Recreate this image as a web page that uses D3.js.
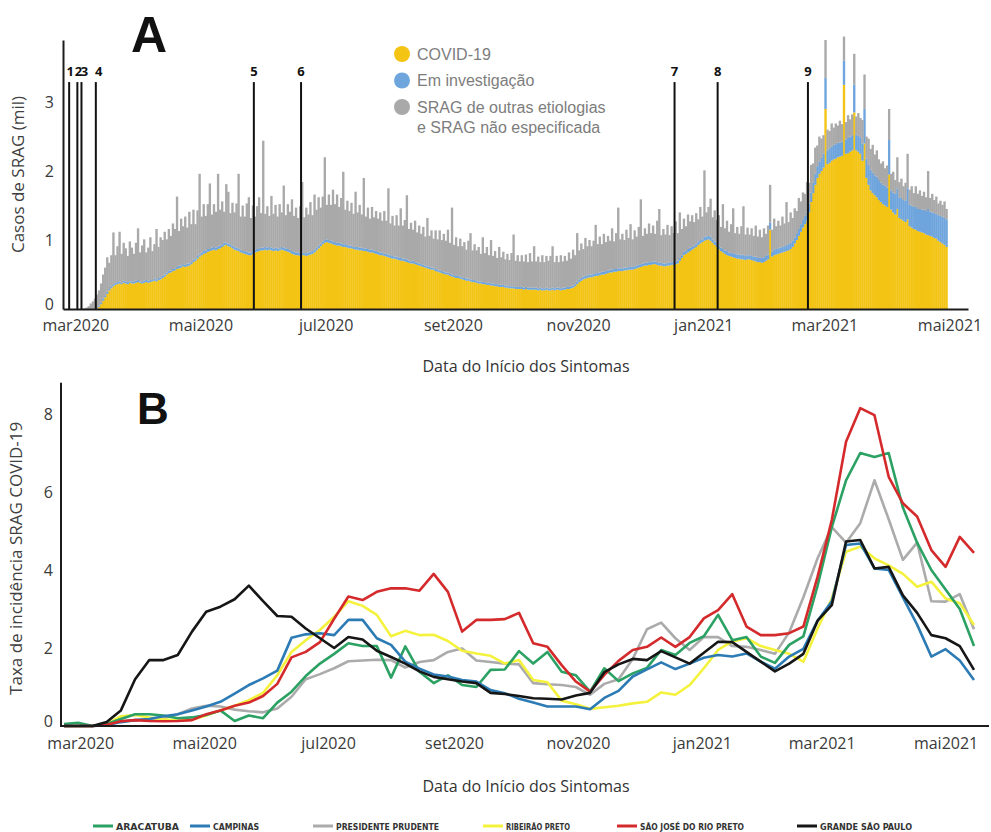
<!DOCTYPE html>
<html>
<head>
<meta charset="utf-8">
<script src="https://cdn.jsdelivr.net/npm/d3@7"></script>
<style>
  body { margin: 0; background: #fff; }
  text { font-family: "Open Sans", "Noto Sans", sans-serif; }
</style>
</head>
<body>
<svg id="chart" width="991" height="832"></svg>
<script>
// ---- panel A: daily SRAG cases (thousands), from 1 Mar 2020 ----
var firstDay = '2020-03-01';
var covid = [
  0,0,0,0,0,0,0,
  0,0,0,0,0.03,0.07,0.12,
  0.17,0.22,0.27,0.30,0.33,0.35,0.36,
  0.37,0.36,0.38,0.37,0.36,0.38,0.37,
  0.37,0.38,0.39,0.38,0.37,0.38,0.39,
  0.38,0.39,0.40,0.41,0.40,0.42,0.43,
  0.45,0.47,0.50,0.52,0.53,0.55,0.56,
  0.58,0.59,0.60,0.62,0.61,0.62,0.63,
  0.65,0.68,0.70,0.73,0.76,0.78,0.80,
  0.81,0.83,0.84,0.85,0.86,0.85,0.87,
  0.88,0.90,0.92,0.93,0.91,0.90,0.88,
  0.86,0.85,0.84,0.82,0.81,0.80,0.79,
  0.78,0.78,0.80,0.82,0.83,0.84,0.85,
  0.85,0.86,0.85,0.86,0.85,0.84,0.85,
  0.84,0.85,0.86,0.85,0.84,0.83,0.82,
  0.80,0.79,0.78,0.78,0.77,0.78,0.78,
  0.77,0.78,0.79,0.80,0.82,0.85,0.88,
  0.91,0.94,0.96,0.97,0.96,0.95,0.94,
  0.93,0.92,0.92,0.91,0.90,0.90,0.89,
  0.88,0.88,0.87,0.86,0.86,0.85,0.85,
  0.84,0.84,0.83,0.82,0.82,0.81,0.80,
  0.79,0.78,0.78,0.77,0.76,0.75,0.74,
  0.73,0.73,0.72,0.71,0.70,0.70,0.69,
  0.68,0.67,0.66,0.66,0.65,0.64,0.63,
  0.62,0.61,0.60,0.59,0.58,0.57,0.57,
  0.55,0.54,0.53,0.52,0.51,0.50,0.50,
  0.48,0.47,0.46,0.45,0.45,0.44,0.43,
  0.42,0.41,0.41,0.40,0.39,0.39,0.38,
  0.37,0.37,0.36,0.36,0.35,0.35,0.34,
  0.34,0.33,0.33,0.32,0.32,0.32,0.31,
  0.31,0.30,0.30,0.30,0.29,0.29,0.29,
  0.29,0.28,0.29,0.28,0.28,0.28,0.28,
  0.28,0.27,0.28,0.27,0.27,0.28,0.27,
  0.27,0.28,0.27,0.28,0.28,0.27,0.28,
  0.28,0.29,0.29,0.30,0.31,0.33,0.36,
  0.39,0.41,0.43,0.44,0.45,0.46,0.46,
  0.47,0.48,0.48,0.49,0.50,0.50,0.51,
  0.52,0.53,0.53,0.54,0.54,0.55,0.55,
  0.55,0.56,0.56,0.57,0.57,0.57,0.58,
  0.59,0.60,0.61,0.62,0.63,0.63,0.64,
  0.64,0.65,0.65,0.64,0.63,0.63,0.62,
  0.62,0.63,0.63,0.64,0.64,0.65,0.66,
  0.70,0.74,0.78,0.80,0.82,0.84,0.86,
  0.88,0.90,0.93,0.95,0.97,0.99,1.00,
  1.01,0.99,0.96,0.93,0.90,0.87,0.84,
  0.82,0.80,0.78,0.77,0.76,0.75,0.74,
  0.73,0.73,0.72,0.72,0.71,0.72,0.72,
  0.71,0.70,0.69,0.68,0.68,0.67,0.68,
  0.70,0.72,1.15,0.76,0.78,0.79,0.80,
  0.81,0.82,0.83,0.84,0.85,0.87,0.90,
  0.95,1.00,1.06,1.12,1.18,1.23,1.28,
  1.40,1.55,1.68,1.80,1.90,1.96,2.00,
  2.05,2.90,2.10,2.12,2.15,2.17,2.18,
  2.20,2.21,2.22,3.25,2.25,2.26,2.28,
  2.30,2.85,2.30,2.28,2.25,2.15,2.40,
  1.90,1.80,1.72,1.68,1.65,1.62,1.58,
  1.55,1.52,1.50,1.48,1.95,1.44,1.40,
  1.37,1.45,1.32,1.30,1.28,1.26,1.30,
  1.20,1.18,1.16,1.15,1.13,1.12,1.11,
  1.10,1.08,1.07,1.06,1.05,1.03,1.02,
  0.99,0.97,0.95,0.93,0.90
];
var investigacao = [
  0,0,0,0,0,0,0,
  0,0,0,0.01,0.02,0.02,0.03,
  0.03,0.03,0.02,0.03,0.03,0.03,0.03,
  0.03,0.02,0.03,0.03,0.03,0.02,0.03,
  0.03,0.03,0.03,0.02,0.03,0.03,0.03,
  0.03,0.03,0.02,0.03,0.03,0.03,0.03,
  0.03,0.03,0.03,0.04,0.03,0.03,0.03,
  0.03,0.04,0.03,0.03,0.03,0.04,0.03,
  0.03,0.04,0.03,0.04,0.03,0.04,0.04,
  0.04,0.04,0.03,0.04,0.04,0.04,0.04,
  0.04,0.04,0.04,0.03,0.04,0.04,0.04,
  0.04,0.04,0.04,0.04,0.03,0.04,0.04,
  0.04,0.04,0.04,0.04,0.04,0.03,0.04,
  0.04,0.04,0.04,0.04,0.04,0.04,0.04,
  0.04,0.03,0.04,0.04,0.04,0.04,0.04,
  0.04,0.04,0.04,0.04,0.04,0.04,0.03,
  0.04,0.04,0.04,0.04,0.04,0.04,0.04,
  0.04,0.04,0.04,0.04,0.04,0.04,0.04,
  0.04,0.04,0.04,0.04,0.04,0.04,0.04,
  0.04,0.04,0.03,0.04,0.04,0.04,0.04,
  0.04,0.04,0.04,0.04,0.04,0.04,0.04,
  0.04,0.04,0.04,0.03,0.04,0.04,0.04,
  0.04,0.03,0.04,0.04,0.04,0.03,0.04,
  0.04,0.03,0.03,0.04,0.03,0.03,0.03,
  0.03,0.03,0.03,0.03,0.03,0.03,0.03,
  0.03,0.03,0.03,0.03,0.03,0.03,0.03,
  0.03,0.03,0.03,0.03,0.03,0.03,0.03,
  0.03,0.03,0.03,0.03,0.03,0.03,0.03,
  0.03,0.03,0.03,0.03,0.03,0.03,0.03,
  0.03,0.03,0.03,0.03,0.03,0.03,0.03,
  0.03,0.03,0.03,0.03,0.03,0.03,0.03,
  0.03,0.03,0.03,0.03,0.03,0.03,0.03,
  0.03,0.03,0.03,0.03,0.03,0.03,0.03,
  0.03,0.03,0.03,0.03,0.03,0.03,0.03,
  0.03,0.03,0.03,0.03,0.03,0.03,0.04,
  0.04,0.04,0.04,0.04,0.04,0.04,0.04,
  0.04,0.04,0.04,0.04,0.04,0.04,0.04,
  0.04,0.04,0.04,0.04,0.04,0.04,0.04,
  0.04,0.04,0.04,0.04,0.04,0.04,0.04,
  0.04,0.04,0.04,0.04,0.04,0.04,0.04,
  0.04,0.04,0.04,0.04,0.04,0.04,0.04,
  0.04,0.04,0.04,0.04,0.04,0.04,0.04,
  0.04,0.04,0.05,0.04,0.05,0.05,0.04,
  0.04,0.05,0.05,0.05,0.04,0.06,0.05,
  0.05,0.06,0.05,0.05,0.06,0.05,0.05,
  0.05,0.05,0.06,0.05,0.05,0.06,0.06,
  0.06,0.06,0.06,0.07,0.06,0.06,0.06,
  0.06,0.06,0.07,0.06,0.07,0.07,0.07,
  0.07,0.07,0.10,0.07,0.08,0.08,0.08,
  0.08,0.08,0.08,0.09,0.09,0.09,0.09,
  0.09,0.10,0.10,0.11,0.11,0.12,0.12,
  0.13,0.14,0.15,0.16,0.17,0.18,0.19,
  0.20,0.45,0.20,0.21,0.20,0.21,0.21,
  0.21,0.20,0.21,0.35,0.21,0.22,0.22,
  0.22,0.40,0.23,0.23,0.24,0.25,0.50,
  0.28,0.29,0.30,0.30,0.29,0.30,0.29,
  0.28,0.28,0.29,0.28,0.50,0.28,0.29,
  0.30,0.30,0.30,0.31,0.30,0.31,0.45,
  0.31,0.32,0.32,0.33,0.32,0.33,0.33,
  0.34,0.34,0.38,0.35,0.35,0.36,0.36,
  0.37,0.38,0.39,0.39,0.40
];
var outras = [
  0,0,0,0,0.01,0.02,0.04,
  0.08,0.11,0.15,0.20,0.22,0.28,0.35,
  0.40,0.50,0.38,0.45,0.75,0.40,0.52,
  0.72,0.42,0.55,0.48,0.38,0.58,0.49,
  0.40,0.55,0.75,0.42,0.52,0.60,0.40,
  0.48,0.62,0.42,0.50,0.73,0.45,0.58,
  0.52,0.62,0.48,0.60,0.50,0.66,0.57,
  1.02,0.50,0.68,0.55,0.70,0.52,0.75,
  0.55,0.72,0.50,0.66,1.17,0.52,0.68,
  0.50,0.65,0.95,0.48,0.62,0.52,1.05,
  0.52,0.62,0.45,0.85,0.75,0.45,0.62,
  0.50,0.64,1.08,0.48,0.66,0.50,0.70,
  0.80,0.50,0.66,0.48,0.62,0.75,0.50,
  1.55,0.48,0.60,0.45,0.75,0.50,0.62,
  0.46,0.64,0.50,0.90,0.48,0.65,0.55,
  0.75,0.52,0.65,0.50,0.68,1.02,0.52,
  0.66,0.55,0.72,0.52,0.80,0.55,0.70,
  0.52,0.65,1.20,0.50,0.66,0.52,0.75,
  0.55,0.70,0.52,0.66,1.05,0.50,0.64,
  0.50,0.62,0.48,0.80,0.50,0.62,0.48,
  1.02,0.46,0.60,0.45,0.62,0.48,0.58,
  0.48,0.58,0.46,0.62,0.48,0.96,0.46,
  0.58,0.45,0.60,0.46,0.72,0.48,0.56,
  0.93,0.46,0.56,0.45,0.60,0.44,0.55,
  0.44,0.55,0.42,0.70,0.45,0.54,0.42,
  0.56,0.44,0.58,0.45,0.55,0.46,0.62,
  0.45,0.97,0.44,0.56,0.43,0.55,0.45,
  0.52,0.42,0.55,0.67,0.43,0.52,0.44,
  0.50,0.40,0.65,0.42,0.52,0.40,0.63,
  0.40,0.48,0.38,0.55,0.40,0.48,0.38,
  0.46,0.38,0.48,0.75,0.38,0.46,0.37,
  0.46,0.38,0.47,0.37,0.50,0.38,0.60,
  0.38,0.46,0.37,0.48,0.38,0.46,0.40,
  0.47,0.60,0.38,0.46,0.37,0.48,0.38,
  0.46,0.38,0.50,0.40,0.52,0.42,0.70,
  0.42,0.50,0.40,0.55,0.42,0.50,0.41,
  0.48,0.70,0.42,0.52,0.40,0.55,0.42,
  0.50,0.42,0.60,0.40,0.52,0.88,0.42,
  0.50,0.40,0.55,0.42,0.62,0.40,0.52,
  0.42,0.55,0.94,0.40,0.50,0.42,0.56,
  0.42,0.52,0.40,0.60,0.78,0.40,0.50,
  0.42,0.55,0.40,0.52,0.42,0.58,0.40,
  0.66,0.38,0.48,0.36,0.50,0.38,0.46,
  0.34,0.44,0.32,0.48,0.33,0.96,0.35,
  0.42,0.55,0.32,0.45,0.33,0.44,0.30,
  0.65,0.32,0.44,0.30,0.42,0.65,0.30,
  0.40,0.30,0.42,0.70,0.31,0.40,0.30,
  0.40,0.30,0.45,0.31,0.40,0.30,0.42,
  0.32,0.42,0.55,0.32,0.45,0.33,0.40,
  0.32,0.44,0.33,0.62,0.32,0.44,0.33,
  0.42,0.32,0.45,0.33,0.40,0.32,0.44,
  0.30,0.40,0.28,0.38,0.30,0.36,0.28,
  0.27,0.55,0.30,0.25,0.34,0.25,0.30,
  0.25,0.32,0.25,0.35,0.25,0.33,0.25,
  0.30,0.45,0.26,0.33,0.28,0.34,0.50,
  0.32,0.38,0.30,0.40,0.30,0.38,0.30,
  0.28,0.34,0.25,0.32,0.45,0.24,0.30,
  0.20,0.45,0.22,0.28,0.20,0.26,0.50,
  0.22,0.28,0.20,0.30,0.22,0.27,0.20,
  0.26,0.20,0.55,0.20,0.27,0.19,0.25,
  0.17,0.22,0.17,0.24,0.15
];

var markerDates = ['2020-02-27', '2020-03-02', '2020-03-04', '2020-03-11', '2020-05-27',
                   '2020-06-19', '2020-12-18', '2021-01-08', '2021-02-21'];
var markerLabels = ['1', '2', '3', '4', '5', '6', '7', '8', '9'];

var monthTicks = ['2020-03-01', '2020-05-01', '2020-07-01', '2020-09-01',
                  '2020-11-01', '2021-01-01', '2021-03-01', '2021-05-01'];
var monthLabels = ['mar2020', 'mai2020', 'jul2020', 'set2020', 'nov2020', 'jan2021', 'mar2021', 'mai2021'];

var stackKeys = ['covid', 'invest', 'outras'];
var stackNames = ['COVID-19', 'Em investigação', 'SRAG de outras etiologias|e SRAG não especificada'];
var stackColors = ['#F3C414', '#6FA5DD', '#A9A9A9'];

// ---- panel B: weekly incidence, from week ending 22 Feb 2020 ----
var firstWeek = '2020-02-22';
var aracatuba = [0.05,0.08,0,0.05,0.18,0.3,0.3,0.27,0.2,0.22,0.28,0.4,0.13,0.27,0.2,0.6,0.88,1.28,1.6,1.85,
  2.12,2.05,2.05,1.24,2.04,1.39,1.1,1.3,1.05,1.0,1.44,1.45,1.92,1.6,1.9,1.39,1.3,0.88,1.48,1.15,
  1.35,1.49,1.95,1.82,2.13,2.3,2.85,2.2,2.28,1.78,1.62,2.08,2.3,3.6,5.1,6.3,7.0,6.9,7.0,5.6,
  4.7,4.0,3.5,3.0,2.05];
var campinas = [0,0,0,0.02,0.1,0.15,0.18,0.25,0.3,0.4,0.5,0.62,0.83,1.05,1.22,1.42,2.26,2.35,2.38,2.33,
  2.72,2.72,2.25,2.08,1.65,1.47,1.32,1.27,1.18,1.14,0.92,0.84,0.7,0.6,0.5,0.5,0.5,0.43,0.72,0.9,
  1.27,1.45,1.63,1.46,1.6,1.75,1.82,1.78,1.86,1.65,1.47,1.78,1.98,2.7,3.2,4.64,4.68,4.04,4.0,3.3,
  2.6,1.78,1.97,1.68,1.18];
var presidentePrudente = [0,0,0,0.03,0.12,0.15,0.18,0.2,0.3,0.45,0.52,0.5,0.42,0.38,0.35,0.45,0.75,1.2,1.33,1.48,
  1.66,1.68,1.7,1.69,1.5,1.64,1.69,1.9,1.99,1.68,1.64,1.6,1.58,1.1,1.07,1.05,1.0,0.8,1.08,1.2,
  1.72,2.48,2.65,2.25,1.95,2.28,2.28,2.05,2.03,1.95,1.85,2.4,3.3,4.3,5.1,4.7,5.2,6.3,5.3,4.26,
  4.7,3.2,3.19,3.38,2.48];
var ribeiraoPreto = [0,0,0,0.05,0.25,0.28,0.22,0.17,0.14,0.16,0.27,0.4,0.52,0.66,0.85,1.3,1.9,2.2,2.46,2.8,
  3.2,3.08,2.85,2.3,2.44,2.33,2.34,2.18,1.93,1.86,1.8,1.6,1.69,1.18,1.12,0.65,0.56,0.44,0.48,0.52,
  0.58,0.62,0.86,0.8,1.05,1.48,1.95,2.17,2.25,2.05,1.95,1.85,1.65,2.5,3.27,4.47,4.6,4.3,4.12,3.9,
  3.57,3.7,3.27,3.15,2.59];
var saoJoseRioPreto = [0,0,0,0.03,0.12,0.15,0.13,0.12,0.13,0.15,0.3,0.4,0.52,0.6,0.77,1.08,1.76,1.9,2.15,2.75,
  3.32,3.23,3.44,3.53,3.53,3.47,3.9,3.44,2.42,2.72,2.72,2.74,2.9,2.12,2.03,1.56,1.14,0.88,1.31,1.67,
  1.95,2.03,2.27,2.03,2.28,2.76,2.97,3.38,2.55,2.33,2.33,2.38,2.55,3.83,5.28,7.29,8.15,7.97,6.39,5.71,
  5.37,4.51,4.08,4.85,4.44];
var grandeSaoPaulo = [0,0,0,0.1,0.4,1.2,1.69,1.69,1.82,2.42,2.93,3.06,3.25,3.6,3.2,2.82,2.8,2.5,2.25,2.0,
  2.28,2.22,1.93,1.77,1.6,1.4,1.26,1.2,1.14,1.1,0.85,0.82,0.77,0.71,0.7,0.68,0.78,0.85,1.38,1.58,
  1.72,1.69,1.92,1.76,1.6,1.88,2.16,2.15,1.9,1.65,1.4,1.6,1.85,2.7,3.1,4.73,4.77,4.04,4.08,3.35,
  2.9,2.33,2.25,2.05,1.44];

var regionNames = ['ARACATUBA', 'CAMPINAS', 'PRESIDENTE PRUDENTE', 'RIBEIRÃO PRETO', 'SÃO JOSÉ DO RIO PRETO', 'GRANDE SÃO PAULO'];
var regionValues = [aracatuba, campinas, presidentePrudente, ribeiraoPreto, saoJoseRioPreto, grandeSaoPaulo];
var regionColors = ['#2BA163', '#2C7BB4', '#ABABAB', '#F4F23C', '#D42A2C', '#161616'];
var drawOrder = [2, 3, 0, 1, 4, 5];

(function(){
  var parse = d3.utcParse('%Y-%m-%d');
  var svg = d3.select('#chart');
  var axisColor = '#1c1c1c';
  var tickColor = '#3a3a3a';

  // ================= Panel A =================
  var xA = d3.scaleUtc()
    .domain([parse('2020-02-24'), parse('2021-05-10')])
    .range([63, 968]);
  var yA = d3.scaleLinear().domain([0, 3.9]).range([309, 40]);

  var start = parse(firstDay);
  var n = Math.min(covid.length, investigacao.length, outras.length);
  var days = d3.range(n).map(function(i) {
    return {date: d3.utcDay.offset(start, i), covid: covid[i], invest: investigacao[i], outras: outras[i]};
  });
  var series = d3.stack().keys(stackKeys)(days);

  var gA = svg.append('g');
  gA.selectAll('g.layer')
    .data(series)
    .enter()
    .append('g')
    .attr('class', 'layer')
    .attr('fill', function(d, i) { return stackColors[i]; })
    .selectAll('rect')
    .data(function(d) { return d; })
    .enter()
    .append('rect')
    .attr('x', function(d) { return xA(d.data.date); })
    .attr('width', function(d) { return xA(d3.utcDay.offset(d.data.date, 1)) - xA(d.data.date) + 0.3; })
    .attr('y', function(d) { return yA(d[1]); })
    .attr('height', function(d) { return Math.max(0, yA(d[0]) - yA(d[1])); });

  // event markers
  var markerTop = 3.29;
  var markerShift = [1, 1, 3, 3, 0, 0, 0, 0, 0];
  var mk = gA.selectAll('g.marker')
    .data(markerDates)
    .enter()
    .append('g')
    .attr('class', 'marker');
  mk.append('line')
    .attr('x1', function(d) { return xA(parse(d)); })
    .attr('x2', function(d) { return xA(parse(d)); })
    .attr('y1', yA(markerTop))
    .attr('y2', yA(0))
    .attr('stroke', '#111')
    .attr('stroke-width', 2);
  mk.append('text')
    .attr('x', function(d, i) { return xA(parse(d)) + markerShift[i]; })
    .attr('y', yA(markerTop) - 6)
    .attr('text-anchor', 'middle')
    .style('font-size', '13px')
    .style('font-weight', 'bold')
    .attr('fill', '#111')
    .text(function(d, i) { return markerLabels[i]; });

  // axes A
  var axA = gA.append('g')
    .attr('transform', 'translate(0,' + yA(0) + ')')
    .call(d3.axisBottom(xA)
      .tickValues(monthTicks.map(parse))
      .tickFormat(function(d, i) { return monthLabels[i]; })
      .tickSize(0).tickPadding(11));
  var ayA = gA.append('g')
    .attr('transform', 'translate(63,0)')
    .call(d3.axisLeft(yA).tickValues([0, 1, 2, 3]).tickFormat(d3.format('d')).tickSize(0).tickPadding(9));
  [axA, ayA].forEach(function(a) {
    a.select('.domain').attr('stroke', axisColor).attr('stroke-width', 2);
    a.selectAll('text').style('font-size', '16px').attr('fill', tickColor).style('font-family', '"Open Sans", sans-serif');
  });
  ayA.selectAll('.tick').filter(function(d) { return d === 0; }).select('text').attr('dy', '0.05em');

  gA.append('text')
    .attr('transform', 'translate(24,' + yA(1.95) + ') rotate(-90)')
    .attr('text-anchor', 'middle')
    .style('font-size', '17px')
    .attr('fill', '#404040')
    .text('Casos de SRAG (mil)');
  gA.append('text')
    .attr('x', 526).attr('y', 372)
    .attr('text-anchor', 'middle')
    .style('font-size', '16px')
    .attr('fill', '#333')
    .text('Data do Início dos Sintomas');
  gA.append('text')
    .attr('x', 131).attr('y', 52)
    .style('font-family', '"Liberation Sans", Arial, sans-serif')
    .style('font-size', '50px')
    .style('font-weight', 'bold')
    .attr('fill', '#111')
    .text('A');

  // legend A
  var lgA = gA.selectAll('g.lgA')
    .data(stackNames)
    .enter()
    .append('g')
    .attr('class', 'lgA')
    .attr('transform', function(d, i) { return 'translate(402,' + (54 + i * 26.5) + ')'; });
  lgA.append('circle').attr('r', 8).attr('fill', function(d, i) { return stackColors[i]; });
  lgA.append('text')
    .attr('x', 15)
    .attr('y', 5.5)
    .style('font-family', '"Liberation Sans", Arial, sans-serif')
    .style('font-size', '16px')
    .attr('fill', '#7d7d7d')
    .selectAll('tspan')
    .data(function(d) { return d.split('|'); })
    .enter()
    .append('tspan')
    .attr('x', 15)
    .attr('dy', function(d, i) { return i ? 20 : 0; })
    .text(function(d) { return d; });

  // ================= Panel B =================
  var weekStart = parse(firstWeek);
  var nw = aracatuba.length;
  var weeks = d3.range(nw).map(function(i) { return d3.utcDay.offset(weekStart, 7 * i); });
  var xB = d3.scaleUtc()
    .domain([weeks[0], weeks[nw - 1]])
    .range([64, 974]);
  var yB = d3.scaleLinear().domain([0, 8.8]).range([726, 382.8]);

  var gB = svg.append('g');
  var line = d3.line()
    .x(function(d, i) { return xB(weeks[i]); })
    .y(function(d) { return yB(d); });

  gB.selectAll('path.region')
    .data(drawOrder)
    .enter()
    .append('path')
    .attr('class', 'region')
    .attr('d', function(k) { return line(regionValues[k]); })
    .attr('fill', 'none')
    .attr('stroke', function(k) { return regionColors[k]; })
    .attr('stroke-width', 2.6)
    .attr('stroke-linejoin', 'round');

  var axB = gB.append('g')
    .attr('transform', 'translate(0,' + yB(0) + ')')
    .call(d3.axisBottom(xB)
      .tickValues(monthTicks.map(parse))
      .tickFormat(function(d, i) { return monthLabels[i]; })
      .tickSize(0).tickPadding(12));
  axB.select('.domain').remove();
  var ayB = gB.append('g')
    .attr('transform', 'translate(61,0)')
    .call(d3.axisLeft(yB).tickValues([0, 2, 4, 6, 8]).tickSize(0).tickPadding(8));
  ayB.select('.domain').remove();
  [axB, ayB].forEach(function(a) {
    a.selectAll('text').style('font-size', '16px').attr('fill', tickColor).style('font-family', '"Open Sans", sans-serif');
  });
  ayB.selectAll('.tick').filter(function(d) { return d === 0; }).select('text').attr('dy', '0.05em');
  gB.append('line')
    .attr('x1', 61).attr('x2', 61)
    .attr('y1', yB(8.8)).attr('y2', yB(0) + 1)
    .attr('stroke', axisColor).attr('stroke-width', 2);
  gB.append('line')
    .attr('x1', 60).attr('x2', 989)
    .attr('y1', yB(0)).attr('y2', yB(0))
    .attr('stroke', axisColor).attr('stroke-width', 2);

  gB.append('text')
    .attr('transform', 'translate(22,' + yB(4.3) + ') rotate(-90)')
    .attr('text-anchor', 'middle')
    .style('font-size', '17px')
    .attr('fill', '#404040')
    .text('Taxa de incidência SRAG COVID-19');
  gB.append('text')
    .attr('x', 526).attr('y', 792)
    .attr('text-anchor', 'middle')
    .style('font-size', '16px')
    .attr('fill', '#333')
    .text('Data do Início dos Sintomas');
  gB.append('text')
    .attr('x', 137).attr('y', 424)
    .style('font-family', '"Liberation Sans", Arial, sans-serif')
    .style('font-size', '44px')
    .style('font-weight', 'bold')
    .attr('fill', '#111')
    .text('B');

  // legend B
  var legendX = [93, 190, 313, 483, 617, 797];
  var legendW = [63, 46, 103, 64, 104, 92];
  var lgB = gB.selectAll('g.lgB')
    .data(regionNames)
    .enter()
    .append('g')
    .attr('class', 'lgB')
    .attr('transform', function(d, i) { return 'translate(' + legendX[i] + ',826)'; });
  lgB.append('line')
    .attr('x1', 0).attr('x2', 20)
    .attr('stroke', function(d, i) { return regionColors[i]; })
    .attr('stroke-width', 3);
  lgB.append('text')
    .attr('x', 23)
    .attr('y', 3.5)
    .attr('textLength', function(d, i) { return legendW[i]; })
    .attr('lengthAdjust', 'spacingAndGlyphs')
    .style('font-family', '"Liberation Sans Narrow", "DejaVu Sans Condensed", sans-serif')
    .style('font-size', '9.5px')
    .style('font-weight', 'bold')
    .attr('fill', '#333')
    .text(function(d) { return d; });
})();
</script>
</body>
</html>
